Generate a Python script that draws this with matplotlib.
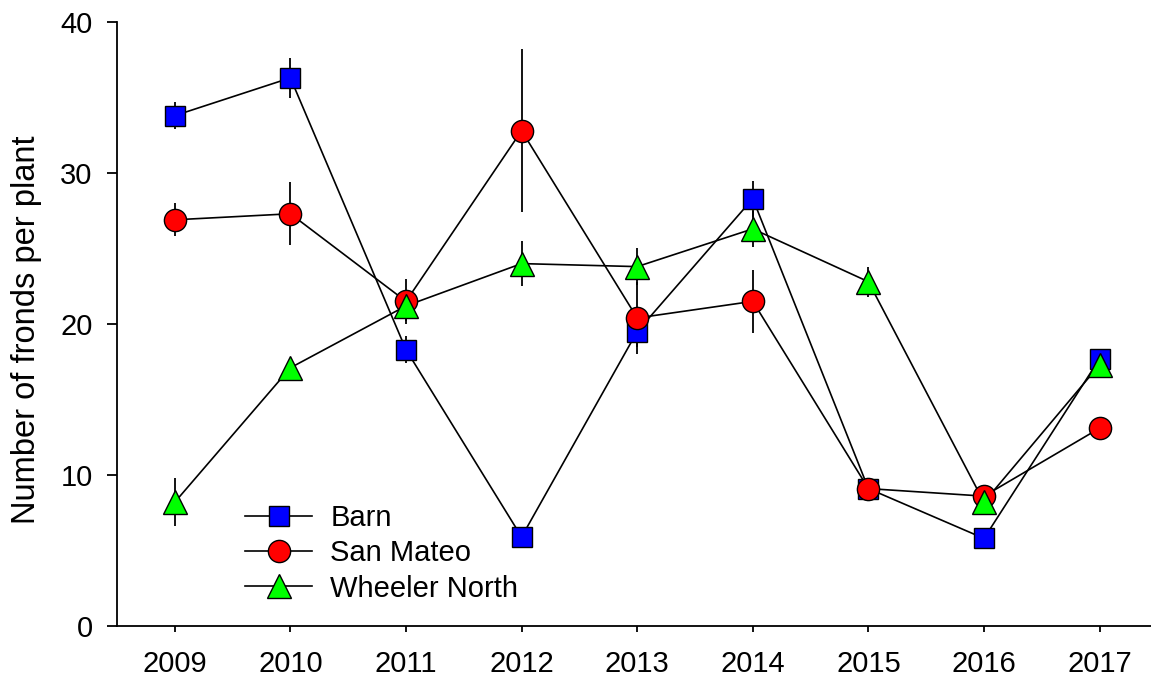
import matplotlib.pyplot as plt
import numpy as np

plt.rcParams['font.family'] = ['Liberation Sans', 'DejaVu Sans']

anos = [2009, 2010, 2011, 2012, 2013, 2014, 2015, 2016, 2017]

barn = [33.8, 36.3, 18.3, 5.9, 19.5, 28.3, 9.1, 5.8, 17.7]
barn_err = [0.9, 1.3, 0.9, 0.4, 1.0, 1.2, 0.5, 0.4, 0.5]

san_mateo = [26.9, 27.3, 21.5, 32.8, 20.4, 21.5, 9.1, 8.6, 13.1]
san_mateo_err = [1.1, 2.1, 1.5, 5.4, 2.4, 2.1, 0.5, 0.4, 0.5]

wheeler = [8.2, 17.1, 21.2, 24.0, 23.8, 26.3, 22.8, 8.2, 17.3]
wheeler_err = [1.6, 0.6, 1.0, 1.5, 1.2, 1.2, 1.0, 0.4, 0.6]

fig = plt.figure(figsize=(11.51, 6.81), dpi=100)
ax = fig.add_axes([117/1151, 1 - 626/681, 1040.4/1151, 604/681])

series = [
    (barn, barn_err, 's', 'blue', 14.5, 'Barn'),
    (san_mateo, san_mateo_err, 'o', 'red', 16, 'San Mateo'),
    (wheeler, wheeler_err, '^', '#00ff00', 17, 'Wheeler North'),
]

for y, e, m, c, ms, nome in series:
    ax.errorbar(anos, y, yerr=e, fmt='none', ecolor='black', elinewidth=1.3,
                capsize=0, zorder=1)
for y, e, m, c, ms, nome in series:
    ax.plot(anos, y, '-', color='black', lw=1.2, zorder=2)
for i, (y, e, m, c, ms, nome) in enumerate(series):
    ax.plot(anos, y, marker=m, markersize=ms, markerfacecolor=c,
            markeredgecolor='black', markeredgewidth=1.0, lw=0, zorder=3 + i)
    # so o handle da legenda tem linha
    ax.plot([], [], '-', marker=m, markersize=ms, markerfacecolor=c,
            markeredgecolor='black', markeredgewidth=1.0, color='black',
            lw=1.2, label=nome)

ax.set_xlim(2008.5, 2017.5)
ax.set_ylim(0, 40)
ax.set_xticks(anos)
ax.set_yticks([0, 10, 20, 30, 40])

for s in ['top', 'right']:
    ax.spines[s].set_visible(False)
ax.spines['left'].set_linewidth(1.3)
ax.spines['bottom'].set_linewidth(1.3)

ax.tick_params(axis='y', direction='out', length=7.5, width=1.3, labelsize=21, pad=10)
ax.tick_params(axis='x', direction='out', length=4.5, width=1.3, labelsize=21, pad=13)

ax.set_ylabel('Number of fronds per plant', fontsize=23.5)
ax.yaxis.set_label_coords(-0.072, 0.49)

ax.legend(loc='upper left', bbox_to_anchor=(245/1151, 1 - 504/681),
          bbox_transform=fig.transFigure, frameon=False, fontsize=21,
          handlelength=2.3, handletextpad=0.62, labelspacing=0.25,
          borderpad=0, borderaxespad=0, numpoints=1)

plt.savefig('out.png', dpi=100)
plt.close()
